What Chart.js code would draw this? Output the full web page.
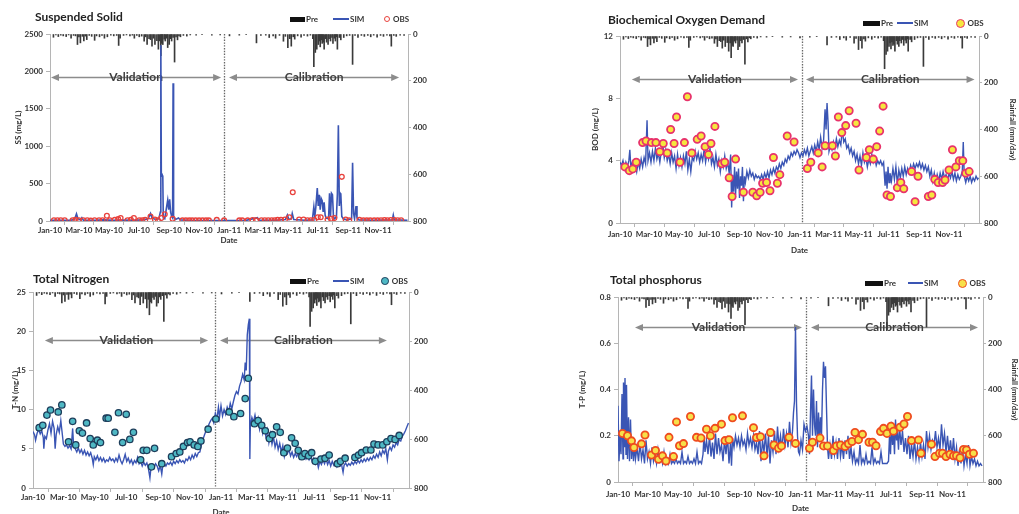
<!DOCTYPE html>
<html>
<head>
<meta charset="utf-8">
<script src="https://cdn.jsdelivr.net/npm/chart.js@4.4.1/dist/chart.umd.min.js"></script>
<style>
  html, body { margin: 0; padding: 0; background: #fff; }
  body { width: 1019px; height: 514px; position: relative; overflow: hidden; font-family: Lato, "Liberation Sans", sans-serif; }
  .box { position: absolute; overflow: hidden; }
  .box canvas { position: absolute; }
  .ttl { position: absolute; font-weight: bold; font-size: 12px; color: #222; line-height: 14px; white-space: nowrap; }
  .lg { position: absolute; font-size: 8px; font-weight: bold; color: #333; line-height: 10px; white-space: nowrap; }
  .mk { position: absolute; box-sizing: border-box; }
</style>
</head>
<body>
<script>
// x axis: days since 1 Jan 2010
const tickDays = [0, 59, 120, 181, 243, 304, 365, 424, 485, 546, 608, 669];
const tickLabels = ["Jan-10", "Mar-10", "May-10", "Jul-10", "Sep-10", "Nov-10",
                    "Jan-11", "Mar-11", "May-11", "Jul-11", "Sep-11", "Nov-11"];

// daily rainfall (mm/day)
const rainDays = [7,12,17,22,27,33,38,43,48,52,56,59,62,66,69,72,75,80,85,91,95,101,106,111,117,124,130,136,140,143,150,156,163,168,172,177,182,187,192,195,198,202,205,208,211,214,218,221,224,226,228,230,233,235,238,240,243,246,248,251,254,257,260,263,266,272,279,286,298,310,330,347,366,386,400,421,430,440,447,455,460,468,476,480,485,489,492,496,499,505,512,518,525,531,536,538,541,544,547,549,551,553,555,557,559,562,564,567,569,572,575,577,580,582,584,586,590,593,599,605,611,617,622,628,635,641,648,654,660,667,674,680,687,693,696,701,706,714,722];
const rainMm   = [14,4,11,5,8,11,4,18,6,8,45,12,38,10,30,9,24,6,10,27,8,12,6,18,12,5,8,6,49,18,6,4,8,5,18,6,12,9,31,12,45,20,24,52,18,45,28,65,30,93,40,45,22,30,18,58,45,20,30,15,120,12,25,8,12,6,9,4,5,3,5,4,8,5,3,38,6,5,15,8,18,6,31,10,58,20,52,12,22,8,14,6,9,5,20,140,79,65,45,30,55,25,40,35,65,20,35,45,20,30,15,40,18,30,12,65,15,25,15,8,6,130,6,15,6,10,6,12,5,14,6,10,5,8,52,6,10,5,6];

// Suspended solid
const ssSim = [[0,8],[20,10],[40,8],[50,20],[54,95],[57,30],[62,15],[65,45],[68,12],[90,10],[110,15],[130,8],[150,12],[170,10],[190,15],[200,30],[205,100],[208,40],[215,20],[222,30],[225,120],[226,2350],[227,600],[228,630],[230,600],[231,40],[234,30],[238,200],[240,280],[242,150],[244,290],[246,120],[248,60],[250,40],[251,1840],[252,60],[256,20],[262,40],[266,15],[280,8],[320,6],[360,5],[400,8],[423,45],[426,10],[460,10],[480,20],[484,80],[487,20],[492,30],[494,100],[497,20],[520,10],[535,15],[538,190],[540,60],[542,180],[545,440],[547,200],[549,350],[551,150],[553,300],[555,270],[557,120],[559,250],[561,80],[563,40],[568,30],[570,370],[572,60],[574,370],[576,350],[578,60],[580,30],[584,50],[586,360],[588,1280],[590,200],[592,370],[593,360],[595,60],[598,30],[605,15],[615,30],[617,780],[619,100],[621,30],[624,200],[626,40],[630,15],[660,10],[698,15],[700,80],[702,15],[729,10]];
const ssObs = [[8,10],[15,10],[22,10],[30,10],[46,10],[52,15],[59,10],[68,10],[76,10],[83,5],[91,10],[100,10],[107,10],[116,70],[122,10],[132,15],[139,25],[144,40],[158,10],[165,15],[171,40],[182,10],[188,10],[194,15],[205,60],[214,20],[220,10],[227,40],[234,90],[250,30],[270,8],[277,8],[284,8],[290,8],[297,8],[304,8],[311,8],[318,8],[324,8],[340,15],[355,8],[386,8],[392,8],[403,8],[413,12],[420,8],[431,10],[438,10],[445,10],[452,10],[458,10],[464,15],[471,15],[479,20],[488,50],[495,385],[508,20],[517,20],[525,10],[532,10],[539,12],[546,50],[552,50],[566,20],[573,30],[580,40],[595,590],[603,20],[610,10],[631,15],[639,8],[646,8],[653,8],[661,8],[668,8],[675,10],[682,12],[688,10],[695,12],[702,12],[709,10],[716,10]];

// Biochemical oxygen demand
const bodSim = [[0,3.9],[3,3.7],[6,4.0],[9,3.5],[12,3.9],[15,3.6],[18,4.0],[20,4.7],[22,3.6],[25,3.9],[28,3.4],[31,3.8],[34,3.3],[37,3.9],[40,3.5],[43,4.1],[46,3.6],[49,4.2],[52,3.8],[55,6.6],[57,4.0],[60,4.5],[63,3.9],[66,4.6],[69,4.0],[72,4.8],[75,4.1],[78,4.5],[81,3.9],[84,4.6],[87,5.0],[90,4.2],[93,4.7],[96,4.0],[99,4.4],[102,3.8],[105,4.5],[108,3.9],[111,4.3],[114,3.5],[117,4.4],[120,3.7],[123,4.2],[126,3.6],[129,4.3],[132,3.8],[135,4.6],[138,3.4],[141,4.1],[144,3.3],[147,4.2],[150,4.0],[153,4.6],[156,4.1],[159,4.5],[162,3.9],[165,4.4],[168,4.0],[171,4.7],[174,3.9],[177,4.5],[180,4.1],[183,4.8],[186,3.8],[189,4.2],[192,3.6],[195,4.4],[198,3.7],[201,4.1],[204,3.3],[207,4.0],[210,3.6],[213,4.3],[216,3.5],[219,3.9],[222,3.2],[225,4.4],[227,1.0],[229,3.1],[231,2.0],[233,3.6],[235,1.8],[237,3.3],[239,2.2],[241,3.5],[243,1.6],[245,3.0],[247,2.4],[249,3.6],[251,1.4],[253,3.0],[255,2.6],[258,3.3],[261,2.9],[264,3.4],[267,3.0],[270,3.2],[273,2.8],[276,3.1],[279,2.9],[282,3.0],[285,2.8],[288,3.1],[291,2.8],[294,3.2],[297,2.9],[300,3.3],[303,2.9],[306,3.4],[309,3.1],[312,3.5],[315,3.2],[318,3.6],[321,3.4],[324,3.8],[327,3.5],[330,3.9],[333,3.7],[336,4.1],[339,3.9],[342,4.3],[345,4.1],[348,4.5],[351,4.3],[354,4.6],[357,4.4],[360,4.7],[363,4.5],[366,4.2],[369,4.5],[372,4.3],[375,4.7],[378,4.4],[381,4.8],[384,4.3],[387,4.6],[390,4.9],[393,4.5],[396,5.0],[399,4.6],[402,5.2],[405,4.7],[408,5.5],[411,4.8],[414,5.3],[417,7.3],[419,6.0],[421,7.7],[423,6.5],[425,4.6],[428,5.0],[431,4.7],[434,5.2],[437,4.8],[440,5.4],[443,4.9],[446,5.3],[449,5.0],[452,6.0],[455,5.2],[458,5.4],[461,4.8],[464,5.0],[467,4.5],[470,4.8],[473,4.3],[476,4.6],[479,4.0],[482,4.4],[485,3.8],[488,4.3],[491,3.7],[494,4.5],[497,3.9],[500,4.2],[503,3.6],[506,4.1],[509,3.8],[512,4.4],[515,3.9],[518,4.2],[521,3.7],[524,4.0],[527,3.8],[530,4.0],[533,3.7],[536,3.9],[539,2.4],[541,3.3],[543,2.2],[545,3.6],[547,2.6],[549,3.2],[552,2.7],[555,3.5],[558,2.8],[561,3.6],[564,2.5],[567,3.4],[570,2.9],[573,3.5],[576,3.0],[579,3.6],[582,3.1],[585,3.5],[588,3.2],[591,3.7],[594,3.4],[597,3.8],[600,3.5],[603,3.8],[606,3.6],[609,3.9],[612,3.5],[615,3.8],[618,3.4],[621,3.7],[624,3.3],[627,3.6],[630,3.0],[633,3.4],[636,2.7],[639,3.2],[642,2.6],[645,3.1],[648,2.7],[651,3.2],[654,2.8],[657,3.3],[660,2.9],[663,3.1],[666,2.7],[669,3.2],[672,2.9],[675,3.3],[678,2.8],[681,3.2],[684,2.7],[687,3.1],[690,2.8],[693,3.0],[696,3.3],[698,5.2],[700,3.0],[703,2.6],[706,3.0],[709,2.7],[712,3.0],[715,2.6],[718,2.9],[721,2.7],[724,3.0],[727,2.8],[729,2.9]];
const bodObs = [[10,3.6],[19,3.36],[26,3.47],[33,3.9],[46,5.16],[53,5.26],[64,5.16],[73,5.16],[81,4.58],[88,5.1],[96,4.5],[103,6.0],[110,5.1],[115,6.8],[122,3.9],[131,5.16],[137,8.1],[146,4.5],[157,5.37],[165,5.58],[173,4.9],[180,4.4],[185,5.1],[193,6.2],[207,3.8],[213,3.9],[222,2.9],[228,1.7],[235,4.1],[251,1.97],[270,1.97],[278,1.75],[285,1.97],[290,2.55],[298,2.6],[305,2.07],[312,4.2],[320,2.55],[325,3.1],[340,5.58],[354,5.2],[381,3.5],[388,3.9],[403,4.5],[411,3.6],[417,4.96],[432,4.96],[438,4.3],[444,6.8],[451,5.8],[459,6.25],[466,7.2],[480,6.4],[486,3.4],[501,4.2],[507,4.7],[515,4.1],[522,4.9],[528,5.9],[535,7.5],[543,1.8],[550,1.7],[564,2.27],[571,2.6],[577,2.2],[593,3.3],[600,1.37],[606,3.0],[627,1.7],[634,1.8],[640,2.8],[647,2.6],[656,2.6],[661,2.76],[669,3.4],[676,4.7],[683,3.6],[690,4.0],[697,4.0],[703,3.2],[710,3.3]];

// Total nitrogen
const tnSim = [[0,7.2],[3,6.8],[5,6.1],[8,7.0],[11,7.5],[14,6.9],[17,7.3],[20,6.4],[21,5.0],[23,6.6],[26,6.3],[29,7.4],[32,8.2],[35,7.0],[38,8.5],[41,7.6],[43,5.0],[45,6.8],[48,7.8],[51,7.1],[54,8.6],[56,7.4],[59,5.6],[62,5.3],[65,5.5],[68,5.1],[71,5.4],[74,5.0],[77,7.6],[79,5.2],[82,5.0],[85,4.6],[88,5.1],[91,4.5],[94,4.9],[97,4.3],[100,4.8],[103,4.2],[106,4.6],[109,4.1],[112,4.5],[115,3.8],[117,3.0],[119,4.0],[122,3.6],[125,4.1],[128,3.5],[131,3.9],[134,3.4],[137,3.8],[140,3.3],[143,3.6],[146,3.4],[149,3.9],[152,3.5],[155,3.7],[158,3.3],[161,3.8],[164,3.4],[167,4.2],[170,3.5],[173,3.1],[176,3.6],[179,4.3],[182,3.4],[185,3.8],[188,3.2],[191,3.6],[194,3.0],[197,3.5],[200,3.2],[203,3.9],[206,3.1],[209,3.4],[212,2.8],[215,3.3],[218,2.9],[221,3.2],[224,2.5],[227,1.3],[229,2.6],[232,3.0],[235,2.6],[238,3.1],[241,2.8],[244,2.2],[247,2.9],[250,1.8],[252,2.9],[255,3.1],[258,2.8],[261,3.2],[264,3.0],[267,3.3],[270,2.9],[273,3.4],[276,3.1],[279,3.5],[282,3.2],[285,3.6],[288,3.3],[291,3.5],[294,3.2],[297,3.7],[300,3.5],[303,4.0],[306,3.6],[309,4.2],[312,3.8],[315,4.4],[318,4.0],[321,4.5],[324,4.6],[327,5.5],[330,6.2],[333,6.8],[336,7.3],[339,7.7],[342,8.2],[345,8.6],[348,8.9],[351,8.3],[354,9.5],[357,8.8],[360,10.3],[362,9.0],[365,10.5],[368,9.2],[371,10.0],[374,9.4],[377,10.3],[380,9.7],[383,10.8],[386,10.1],[389,11.0],[392,11.8],[395,12.3],[398,12.0],[401,13.0],[404,13.6],[407,14.5],[410,13.8],[412,16.0],[414,15.0],[416,19.5],[418,20.8],[420,21.6],[421,3.7],[422,8.0],[425,9.0],[428,8.4],[431,9.3],[434,8.2],[437,8.9],[440,7.5],[443,8.4],[446,7.0],[449,7.9],[452,6.6],[455,7.4],[458,5.8],[461,6.9],[464,5.6],[467,6.5],[470,5.2],[473,6.0],[476,4.9],[479,5.7],[482,4.6],[485,5.4],[488,4.0],[491,4.8],[494,4.4],[497,4.9],[500,4.1],[503,4.6],[506,3.9],[509,4.4],[512,4.0],[515,4.5],[518,3.8],[521,4.3],[524,3.9],[527,4.2],[530,3.7],[533,4.1],[536,3.6],[539,4.0],[542,3.4],[545,3.8],[548,3.1],[551,3.6],[554,2.6],[557,3.4],[560,3.0],[563,3.6],[566,3.1],[569,3.7],[572,3.0],[575,3.5],[578,2.8],[581,3.4],[584,2.9],[587,3.2],[590,2.7],[593,3.1],[596,2.8],[599,3.0],[602,2.0],[604,2.9],[607,3.2],[610,2.8],[613,3.1],[616,2.9],[619,3.3],[622,3.0],[625,3.4],[628,3.1],[631,3.5],[634,3.2],[637,3.6],[640,3.3],[643,3.7],[646,3.4],[649,3.8],[652,3.5],[655,3.9],[658,3.6],[661,4.1],[664,3.8],[667,4.3],[670,3.9],[673,4.6],[676,4.1],[679,4.8],[682,4.4],[685,5.0],[688,3.6],[690,4.7],[693,5.2],[696,4.8],[699,5.5],[702,5.2],[705,5.8],[708,5.5],[711,6.2],[714,6.0],[717,6.6],[720,6.9],[723,7.3],[726,7.8],[729,8.3]];
const tnObs = [[12,7.7],[19,8.0],[27,9.3],[34,9.95],[49,9.7],[56,10.6],[69,5.9],[77,8.5],[83,5.5],[90,7.3],[96,7.0],[104,8.3],[111,6.3],[117,5.5],[125,6.1],[131,5.8],[142,8.9],[146,8.9],[159,7.1],[166,9.6],[174,5.8],[181,9.4],[188,6.2],[195,7.1],[209,3.6],[214,4.8],[221,4.8],[230,2.7],[236,5.06],[250,3.1],[269,4.0],[278,4.4],[285,4.6],[292,5.3],[300,5.8],[305,5.9],[313,5.5],[320,5.3],[326,6.0],[340,7.5],[355,8.8],[381,9.7],[390,9.1],[403,9.5],[412,11.4],[418,14.0],[430,8.2],[437,8.6],[444,8.0],[451,7.3],[459,6.3],[465,6.8],[473,7.8],[480,7.1],[487,4.5],[494,5.1],[502,6.4],[509,5.7],[515,4.8],[522,4.0],[528,4.4],[535,4.1],[541,4.5],[548,3.4],[559,3.7],[567,3.8],[575,4.2],[591,3.1],[597,3.4],[606,3.8],[625,3.9],[632,4.2],[638,4.5],[647,4.85],[656,4.85],[662,5.6],[670,5.5],[679,5.5],[687,5.9],[695,6.3],[703,6.2],[711,6.7]];

// Total phosphorus
const tpSim = [[0,0.33],[2,0.09],[4,0.2],[6,0.12],[8,0.38],[10,0.1],[11,0.43],[13,0.15],[14,0.45],[16,0.12],[17,0.42],[19,0.1],[21,0.28],[23,0.09],[25,0.27],[27,0.1],[29,0.18],[31,0.09],[33,0.16],[35,0.1],[38,0.15],[41,0.09],[44,0.17],[47,0.1],[50,0.14],[53,0.08],[56,0.18],[59,0.1],[62,0.13],[65,0.08],[68,0.15],[71,0.09],[74,0.12],[77,0.08],[80,0.14],[83,0.09],[86,0.11],[89,0.08],[92,0.13],[95,0.08],[98,0.1],[101,0.08],[104,0.12],[107,0.08],[110,0.09],[113,0.08],[116,0.1],[119,0.08],[122,0.09],[125,0.08],[128,0.13],[131,0.08],[134,0.09],[137,0.08],[140,0.11],[143,0.08],[146,0.09],[149,0.08],[152,0.1],[155,0.08],[158,0.13],[161,0.08],[164,0.09],[167,0.08],[170,0.12],[172,0.2],[174,0.13],[177,0.18],[180,0.12],[183,0.2],[186,0.11],[189,0.17],[192,0.1],[195,0.21],[198,0.12],[201,0.19],[204,0.13],[207,0.16],[210,0.09],[213,0.18],[216,0.12],[219,0.2],[222,0.08],[225,0.17],[227,0.07],[229,0.19],[232,0.15],[235,0.2],[238,0.16],[241,0.19],[244,0.15],[247,0.2],[250,0.16],[253,0.18],[256,0.14],[259,0.21],[262,0.16],[265,0.19],[268,0.15],[271,0.2],[274,0.14],[277,0.17],[280,0.12],[283,0.22],[286,0.09],[289,0.18],[292,0.13],[295,0.21],[298,0.11],[301,0.2],[304,0.08],[307,0.18],[310,0.13],[313,0.22],[316,0.12],[319,0.24],[322,0.15],[325,0.2],[328,0.14],[331,0.23],[334,0.16],[337,0.21],[340,0.15],[343,0.26],[346,0.17],[349,0.22],[351,0.3],[353,0.35],[355,0.67],[357,0.34],[359,0.2],[361,0.13],[363,0.12],[366,0.18],[369,0.14],[372,0.25],[375,0.22],[378,0.24],[381,0.2],[383,0.12],[385,0.3],[387,0.46],[389,0.2],[391,0.4],[393,0.25],[395,0.2],[397,0.35],[399,0.15],[401,0.3],[403,0.18],[405,0.28],[407,0.2],[409,0.4],[411,0.52],[413,0.45],[415,0.5],[417,0.32],[419,0.15],[421,0.1],[424,0.16],[427,0.1],[430,0.2],[433,0.12],[436,0.17],[439,0.1],[442,0.19],[445,0.11],[448,0.16],[451,0.1],[454,0.18],[457,0.12],[460,0.2],[463,0.1],[466,0.15],[469,0.09],[472,0.13],[475,0.08],[478,0.1],[481,0.08],[484,0.16],[487,0.08],[490,0.1],[493,0.08],[496,0.12],[499,0.08],[502,0.09],[505,0.08],[508,0.15],[511,0.08],[514,0.1],[517,0.08],[520,0.09],[523,0.08],[526,0.13],[529,0.08],[532,0.08],[535,0.08],[538,0.08],[541,0.09],[543,0.2],[545,0.12],[547,0.26],[549,0.16],[551,0.22],[553,0.12],[555,0.27],[557,0.18],[559,0.21],[561,0.14],[563,0.24],[566,0.16],[569,0.22],[572,0.13],[575,0.19],[578,0.12],[581,0.2],[584,0.1],[587,0.16],[590,0.11],[593,0.18],[596,0.1],[599,0.15],[602,0.1],[605,0.17],[608,0.11],[611,0.16],[614,0.1],[617,0.22],[620,0.15],[623,0.2],[626,0.14],[629,0.18],[632,0.16],[635,0.22],[638,0.15],[641,0.19],[644,0.14],[647,0.25],[650,0.16],[653,0.21],[656,0.13],[659,0.2],[662,0.12],[665,0.18],[668,0.11],[671,0.19],[674,0.1],[677,0.15],[680,0.07],[683,0.14],[686,0.08],[689,0.15],[692,0.07],[695,0.12],[698,0.08],[701,0.16],[704,0.07],[707,0.11],[710,0.08],[713,0.1],[716,0.07],[719,0.09],[722,0.07],[725,0.08],[728,0.07]];
const tpObs = [[9,0.21],[19,0.2],[27,0.178],[32,0.149],[47,0.165],[54,0.203],[67,0.117],[75,0.136],[81,0.098],[89,0.113],[96,0.091],[102,0.193],[111,0.11],[117,0.26],[123,0.157],[131,0.166],[145,0.283],[157,0.193],[166,0.19],[177,0.228],[185,0.2],[194,0.232],[207,0.25],[214,0.179],[222,0.183],[229,0.278],[249,0.286],[271,0.235],[277,0.192],[285,0.196],[292,0.113],[305,0.214],[312,0.16],[321,0.146],[327,0.156],[342,0.193],[355,0.167],[383,0.146],[389,0.172],[404,0.19],[411,0.156],[419,0.156],[431,0.136],[437,0.156],[445,0.16],[454,0.153],[461,0.165],[468,0.175],[474,0.214],[481,0.183],[489,0.206],[502,0.172],[509,0.172],[516,0.157],[525,0.218],[531,0.232],[538,0.21],[546,0.241],[551,0.22],[564,0.237],[572,0.251],[579,0.283],[587,0.179],[601,0.182],[606,0.124],[627,0.163],[634,0.11],[643,0.124],[649,0.124],[656,0.11],[664,0.12],[671,0.113],[677,0.114],[684,0.105],[691,0.141],[697,0.139],[703,0.12],[711,0.124]];

Chart.defaults.font.family = 'Lato, "Liberation Sans", sans-serif';
Chart.defaults.font.size = 8;
Chart.defaults.font.weight = "bold";
Chart.defaults.color = "#333";

const AXIS = "#b5b5b5";
const SIM_COLOR = "#3a55b4";

function pts(pairs) {
  return pairs.map((p) => ({ x: p[0], y: p[1] }));
}
const rainData = rainDays.map((d, i) => ({ x: d, y: rainMm[i] }));

// validation / calibration arrows and the dotted split line
function periodsPlugin(cfg) {
  return {
    id: "periods",
    beforeDatasetsDraw(chart) {
      const { ctx, chartArea: a } = chart;
      const xs = chart.scales.x, ys = chart.scales.y;
      ctx.save();
      const sx = Math.round(xs.getPixelForValue(cfg.split)) + 0.5;
      ctx.strokeStyle = "#666";
      ctx.lineWidth = 1.3;
      ctx.setLineDash([1.4, 1.4]);
      ctx.beginPath();
      ctx.moveTo(sx, a.top);
      ctx.lineTo(sx, a.bottom);
      ctx.stroke();
      ctx.setLineDash([]);
      cfg.arrows.forEach((ar) => {
        const x0 = xs.getPixelForValue(ar.from);
        const x1 = xs.getPixelForValue(ar.to);
        const y = Math.round(ys.getPixelForValue(ar.at)) + 0.5;
        ctx.strokeStyle = "#8c8c8c";
        ctx.fillStyle = "#8c8c8c";
        ctx.lineWidth = 1.5;
        ctx.beginPath();
        ctx.moveTo(x0 + 6, y);
        ctx.lineTo(x1 - 6, y);
        ctx.stroke();
        ctx.beginPath();
        ctx.moveTo(x0, y); ctx.lineTo(x0 + 8, y - 3.5); ctx.lineTo(x0 + 8, y + 3.5);
        ctx.closePath(); ctx.fill();
        ctx.beginPath();
        ctx.moveTo(x1, y); ctx.lineTo(x1 - 8, y - 3.5); ctx.lineTo(x1 - 8, y + 3.5);
        ctx.closePath(); ctx.fill();
        ctx.fillStyle = "#404040";
        ctx.font = 'bold 12px Lato, "Liberation Sans", sans-serif';
        ctx.textAlign = "center";
        ctx.textBaseline = "middle";
        ctx.fillText(ar.text, (x0 + x1) / 2, y);
      });
      ctx.restore();
    },
  };
}

function addDiv(cls, x, y, css, text) {
  const d = document.createElement("div");
  d.className = cls;
  d.style.left = x + "px";
  d.style.top = y + "px";
  Object.assign(d.style, css || {});
  if (text) d.textContent = text;
  document.body.appendChild(d);
  return d;
}

function legend(lg, mk) {
  const y = lg.y;
  addDiv("mk", lg.pre[0], y - 2.5, { width: lg.pre[1] - lg.pre[0] + "px", height: "5px", background: "#111" });
  addDiv("lg", lg.pre[1] + 1, y - 5, {}, "Pre");
  addDiv("mk", lg.sim[0], y - 1, { width: lg.sim[1] - lg.sim[0] + "px", height: "2px", background: SIM_COLOR });
  addDiv("lg", lg.sim[1] + 1, y - 5, {}, "SIM");
  const dm = mk.r * 2 + mk.w;
  addDiv("mk", lg.obs - dm / 2, y - dm / 2, {
    width: dm + "px", height: dm + "px", borderRadius: "50%",
    background: mk.fill, border: mk.w + "px solid " + mk.stroke,
  });
  addDiv("lg", lg.obs + dm / 2 + 3, y - 5, {}, "OBS");
}

function panel(p) {
  const box = addDiv("box", p.box[0], p.box[1], { width: p.box[2] + "px", height: p.box[3] + "px" });
  const cv = document.createElement("canvas");
  cv.width = p.cv[2];
  cv.height = p.cv[3];
  cv.style.left = p.cv[0] - p.box[0] + "px";
  cv.style.top = p.cv[1] - p.box[1] + "px";
  box.appendChild(cv);

  addDiv("ttl", p.title[0], p.title[1] - 7, {}, p.title[2]);
  legend(p.legend, p.mk);

  new Chart(cv, {
    type: "line",
    data: {
      datasets: [
        { type: "bar", label: "Pre", data: rainData, yAxisID: "y2", backgroundColor: "#3a3a3a", barThickness: 1, order: 3 },
        { label: "SIM", data: pts(p.sim), yAxisID: "y", borderColor: SIM_COLOR, borderWidth: p.simW, pointRadius: 0, tension: 0, order: 2 },
        {
          label: "OBS", data: pts(p.obs), yAxisID: "y", showLine: false,
          pointRadius: p.mk.r, pointBackgroundColor: p.mk.fill,
          pointBorderColor: p.mk.stroke, pointBorderWidth: p.mk.w, order: 1,
        },
      ],
    },
    options: {
      responsive: false,
      animation: false,
      events: [],
      layout: { padding: p.pad },
      plugins: { legend: { display: false }, tooltip: { enabled: false } },
      scales: {
        x: {
          type: "linear", min: 0, max: 730, offset: false,
          afterBuildTicks: (s) => { s.ticks = tickDays.map((v) => ({ value: v })); },
          afterFit: (s) => { s.height = p.xh; },
          ticks: { autoSkip: false, maxRotation: 0, padding: p.xpad, callback: (v) => tickLabels[tickDays.indexOf(v)] },
          grid: { drawOnChartArea: false, tickLength: 4, color: AXIS },
          border: { color: AXIS },
          title: { display: true, text: "Date", padding: { top: 0, bottom: 4 } },
        },
        y: {
          position: "left", min: p.y[0], max: p.y[1],
          afterFit: (s) => { s.width = p.lw; },
          ticks: { stepSize: p.y[2], padding: 3, callback: p.yFmt || ((v) => v) },
          grid: { drawOnChartArea: false, tickLength: 4, color: AXIS },
          border: { color: AXIS },
          title: { display: true, text: p.yTitle, padding: { top: 4, bottom: 0 } },
        },
        y2: {
          position: "right", reverse: true, min: 0, max: 800,
          afterFit: (s) => { s.width = p.rw; },
          ticks: { stepSize: 200, padding: 2 },
          grid: { drawOnChartArea: false, tickLength: 3, color: AXIS },
          border: { color: AXIS },
          title: { display: true, text: "Rainfall (mm/day)", padding: { top: p.rtp, bottom: 0 } },
        },
      },
    },
    plugins: [periodsPlugin(p.periods)],
  });
}

panel({
  box: [0, 0, 432, 258], cv: [0, 20, 460, 238],
  pad: { left: 10, right: 11, top: 14, bottom: 9 }, lw: 40, rw: 41, xh: 28, xpad: 1, rtp: 4,
  y: [0, 2500, 500], yTitle: "SS (mg/L)", simW: 1.6,
  sim: ssSim, obs: ssObs,
  mk: { r: 2.4, w: 1.3, fill: "rgba(255,255,255,0)", stroke: "#e8413c" },
  title: [35, 17, "Suspended Solid"],
  legend: { y: 19, pre: [290, 305], sim: [333, 349], obs: 387 },
  periods: { split: 355, arrows: [
    { from: 2, to: 349, at: 1930, text: "Validation" },
    { from: 365, to: 712, at: 1930, text: "Calibration" } ] },
});

panel({
  box: [575, 0, 444, 262], cv: [575, 20, 444, 240],
  pad: { left: 12, right: 0, top: 16, bottom: 1 }, lw: 33, rw: 40, xh: 36, xpad: 3, rtp: 2,
  y: [0, 12, 4], yTitle: "BOD (mg/L)", simW: 1.4,
  sim: bodSim, obs: bodObs,
  mk: { r: 3.6, w: 1.8, fill: "#f6e63e", stroke: "#e8336b" },
  title: [608, 20, "Biochemical Oxygen Demand"],
  legend: { y: 23, pre: [863, 880], sim: [897, 913], obs: 960 },
  periods: { split: 370, arrows: [
    { from: 24, to: 362, at: 9.25, text: "Validation" },
    { from: 378, to: 721, at: 9.25, text: "Calibration" } ] },
});

panel({
  box: [0, 262, 432, 252], cv: [0, 275, 460, 250],
  pad: { left: 7, right: 10, top: 17, bottom: 4 }, lw: 26, rw: 41, xh: 33, xpad: 1, rtp: 4,
  y: [0, 25, 5], yTitle: "T-N (mg/L)", simW: 1.4,
  sim: tnSim, obs: tnObs,
  mk: { r: 3.2, w: 1.3, fill: "#4fb8c4", stroke: "#1d3d5a" },
  title: [33, 279, "Total Nitrogen"],
  legend: { y: 281, pre: [290, 306], sim: [333, 349], obs: 385 },
  periods: { split: 353, arrows: [
    { from: 23, to: 340, at: 18.9, text: "Validation" },
    { from: 363, to: 687, at: 18.9, text: "Calibration" } ] },
});

panel({
  box: [565, 262, 454, 252], cv: [565, 280, 454, 240],
  pad: { left: 9, right: 0, top: 17, bottom: 3 }, lw: 44, rw: 36, xh: 35, xpad: 4, rtp: 0,
  y: [0, 0.8, 0.2], yTitle: "T-P (mg/L)", simW: 1.4,
  yFmt: (v) => (v === 0 ? "0" : v.toFixed(1)),
  sim: tpSim, obs: tpObs,
  mk: { r: 3.6, w: 1.8, fill: "#f7e04a", stroke: "#ef4c1f" },
  title: [610, 280, "Total phosphorus"],
  legend: { y: 283, pre: [865, 883], sim: [908, 923], obs: 962 },
  periods: { split: 376, arrows: [
    { from: 34, to: 368, at: 0.67, text: "Validation" },
    { from: 386, to: 720, at: 0.67, text: "Calibration" } ] },
});
</script>
</body>
</html>
